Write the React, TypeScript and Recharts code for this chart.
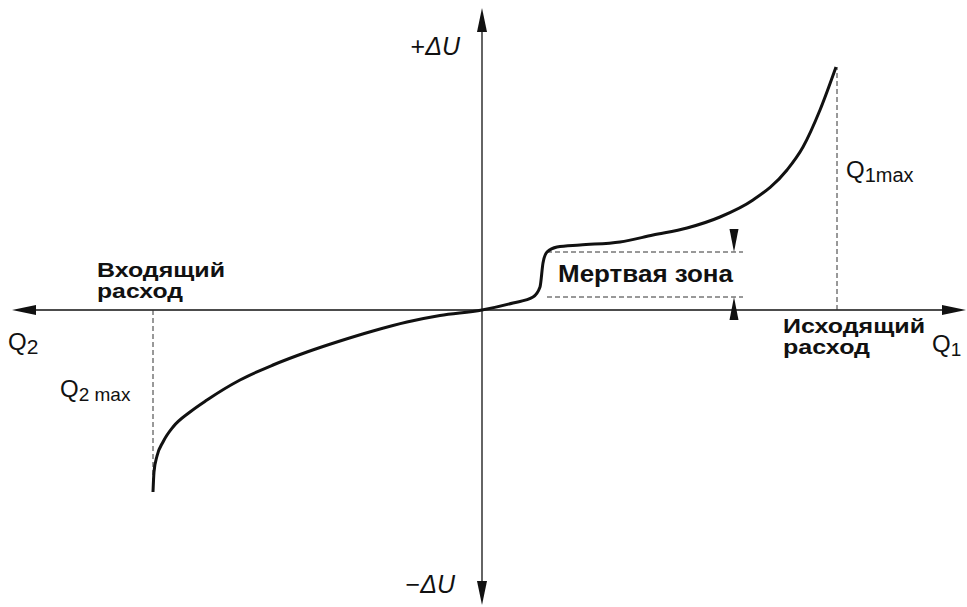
import { ComposedChart, Line, XAxis, YAxis, ReferenceLine, ReferenceDot } from 'recharts'

// расход Q (условные единицы) и изменение ΔU
const flowValues = [
  -82.25, -82, -81.25, -79.75, -77.25, -73, -68.75, -60.5, -52.25, -43.75, -35.5, -27.25, -18.75,
  -10.5, 0, 7.75, 12.75, 14.5, 15.25, 16.25, 18.75, 24.5, 34.5, 42.75, 51.25, 59.5, 67.75, 76.25,
  80.25, 84.5, 88.5,
]
const deltaUValues = [
  -45.5, -40.5, -36.5, -33, -29.25, -25.5, -22.5, -17.5, -13.75, -10.5, -7.75, -5.25, -3, -1.375,
  0, 1.75, 3.25, 5.75, 11.75, 14.5, 15.75, 16.25, 17, 18.75, 20.5, 23.25, 27.5, 35, 40.75, 50,
  60.75,
]

const q1Max = 88.75
const q1MaxDu = 60.75
const q2Max = -82.25
const q2MaxDu = -45.5
const deadZoneTop = 14.5
const deadZoneBottom = 3.25
const deadZoneStart = 16.25
const deadZoneEnd = 65.25
const deadZoneArrowX = 63

const X_DOMAIN: [number, number] = [-120, 121.25]
const Y_DOMAIN: [number, number] = [-74.25, 77.5]

const data = flowValues.map((q, i) => ({ q, du: deltaUValues[i] }))

const FONT = '"Liberation Sans", Arial, sans-serif'
const INK = '#111'

type Dir = 'up' | 'down' | 'left' | 'right'

// треугольная стрелка, cx/cy — острие
const arrowShape = (dir: Dir, len: number, half: number) => (props: any) => {
  const { cx, cy } = props
  let pts = ''
  if (dir === 'up') pts = `${cx},${cy} ${cx - half},${cy + len} ${cx + half},${cy + len}`
  if (dir === 'down') pts = `${cx},${cy} ${cx - half},${cy - len} ${cx + half},${cy - len}`
  if (dir === 'left') pts = `${cx},${cy} ${cx + len},${cy - half} ${cx + len},${cy + half}`
  if (dir === 'right') pts = `${cx},${cy} ${cx - len},${cy - half} ${cx - len},${cy + half}`
  return <polygon points={pts} fill={INK} />
}

// жирная подпись в несколько строк, ширина каждой строки задана
const textShape =
  (lines: { text: string; width: number }[], size: number, lineHeight: number) => (props: any) => {
    const { cx, cy } = props
    return (
      <g>
        {lines.map((l, i) => (
          <text
            key={i}
            x={cx}
            y={cy + i * lineHeight}
            fontFamily={FONT}
            fontSize={size}
            fontWeight="bold"
            fill={INK}
            textLength={l.width}
            lengthAdjust="spacingAndGlyphs"
          >
            {l.text}
          </text>
        ))}
      </g>
    )
  }

const symbolShape =
  (prefix: string, main: string, sub: string, size: number, subSize: number, anchor = 'start') =>
  (props: any) => {
    const { cx, cy } = props
    return (
      <text x={cx} y={cy} fontFamily={FONT} fontSize={size} fill={INK} textAnchor={anchor}>
        {prefix}
        <tspan fontStyle={main.includes('Δ') ? 'italic' : 'normal'}>{main}</tspan>
        {sub && (
          <tspan fontSize={subSize} dy={4}>
            {sub}
          </tspan>
        )}
      </text>
    )
  }

export default function App() {
  return (
    <div style={{ position: 'absolute', left: 0, top: 0, background: '#fff' }}>
      <ComposedChart width={967} height={607} data={data} margin={{ top: 0, right: 0, left: 2, bottom: 0 }}>
        <XAxis type="number" dataKey="q" domain={X_DOMAIN} hide allowDataOverflow />
        <YAxis type="number" domain={Y_DOMAIN} hide allowDataOverflow />

        {/* оси */}
        <ReferenceLine segment={[{ x: -116, y: 0 }, { x: 119.5, y: 0 }]} stroke={INK} strokeWidth={1.3} />
        <ReferenceLine segment={[{ x: 0, y: 73 }, { x: 0, y: -71.5 }]} stroke={INK} strokeWidth={1.3} />
        <ReferenceDot x={-117.5} y={0} r={0} shape={arrowShape('left', 24, 5)} />
        <ReferenceDot x={121} y={0} r={0} shape={arrowShape('right', 24, 5)} />
        <ReferenceDot x={0} y={75.5} r={0} shape={arrowShape('up', 24, 5)} />
        <ReferenceDot x={0} y={-73.75} r={0} shape={arrowShape('down', 24, 5)} />

        {/* пунктирные линии */}
        <ReferenceLine segment={[{ x: q1Max, y: 0 }, { x: q1Max, y: q1MaxDu }]} stroke="#333" strokeDasharray="5 3" />
        <ReferenceLine segment={[{ x: q2Max, y: 0 }, { x: q2Max, y: q2MaxDu }]} stroke="#333" strokeDasharray="5 3" />
        <ReferenceLine
          segment={[{ x: deadZoneStart, y: deadZoneTop }, { x: deadZoneEnd, y: deadZoneTop }]}
          stroke="#333"
          strokeDasharray="5 3"
        />
        <ReferenceLine
          segment={[{ x: deadZoneStart, y: deadZoneBottom }, { x: deadZoneEnd, y: deadZoneBottom }]}
          stroke="#333"
          strokeDasharray="5 3"
        />
        <ReferenceDot x={deadZoneArrowX} y={deadZoneTop} r={0} shape={arrowShape('down', 23, 4.5)} />
        <ReferenceDot x={deadZoneArrowX} y={deadZoneBottom} r={0} shape={arrowShape('up', 23, 4.5)} />

        <Line
          type="monotone"
          dataKey="du"
          stroke={INK}
          strokeWidth={3}
          dot={false}
          activeDot={false}
          isAnimationActive={false}
        />

        {/* подписи */}
        <ReferenceDot x={-5.5} y={63.75} r={0} shape={symbolShape('+', 'ΔU', '', 25, 16, 'end')} />
        <ReferenceDot x={-6.75} y={-70.75} r={0} shape={symbolShape('−', 'ΔU', '', 25, 16, 'end')} />
        <ReferenceDot x={-118.5} y={-10} r={0} shape={symbolShape('', 'Q', '2', 24, 21)} />
        <ReferenceDot x={-105.5} y={-21.75} r={0} shape={symbolShape('', 'Q', '2 max', 24, 19)} />
        <ReferenceDot x={91} y={33} r={0} shape={symbolShape('', 'Q', '1max', 24, 20)} />
        <ReferenceDot x={112.5} y={-10.5} r={0} shape={symbolShape('', 'Q', '1', 24, 19)} />
        <ReferenceDot
          x={-96.25}
          y={8.25}
          r={0}
          shape={textShape([{ text: 'Входящий', width: 128 }, { text: 'расход', width: 86 }], 21, 21)}
        />
        <ReferenceDot
          x={75.25}
          y={-5.75}
          r={0}
          shape={textShape([{ text: 'Исходящий', width: 142 }, { text: 'расход', width: 87 }], 21, 21)}
        />
        <ReferenceDot x={19} y={7} r={0} shape={textShape([{ text: 'Мертвая зона', width: 175 }], 24, 24)} />
      </ComposedChart>
    </div>
  )
}
